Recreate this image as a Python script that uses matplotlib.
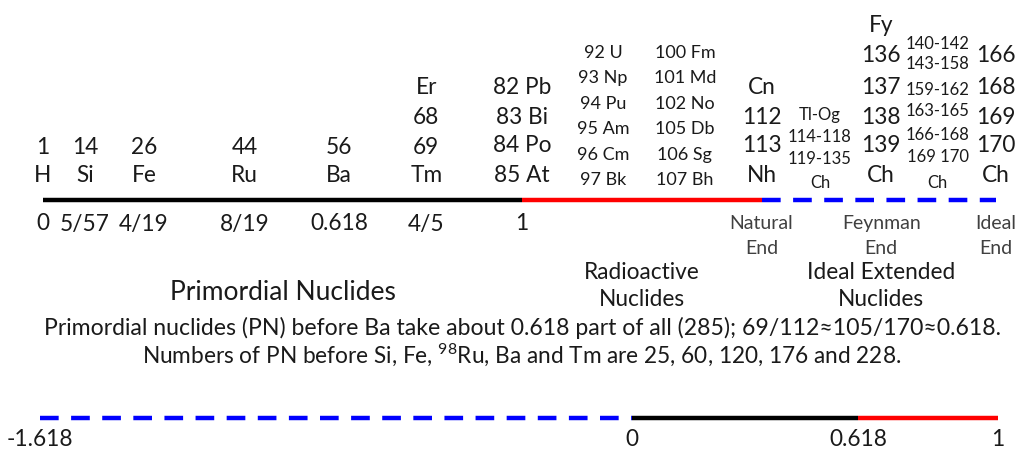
import matplotlib
matplotlib.use('Agg')
import matplotlib.pyplot as plt

plt.rcParams['font.family'] = ['Lato', 'DejaVu Sans']
plt.rcParams['mathtext.fontset'] = 'custom'
plt.rcParams['mathtext.rm'] = 'Lato'
plt.rcParams['mathtext.it'] = 'Lato:italic'
plt.rcParams['mathtext.bf'] = 'Lato:bold'

# ---------------- data ----------------
# top scale positions (fraction from H=0 to end of primordial=1)
prim_pos = [0, 5/57, 4/19, 8/19, 0.618, 0.8]
prim_pos_labels = ['0', '5/57', '4/19', '8/19', '0.618', '4/5']
prim_numbers = ['1', '14', '26', '44', '56', '69']
prim_symbols = ['H', 'Si', 'Fe', 'Ru', 'Ba', 'Tm']
tm_extra = ['Er', '68']

end_pos = 1.0
end_rows = ['82 Pb', '83 Bi', '84 Po', '85 At']
end_label = '1'

radio_pos = [1.169, 1.34]
radio_cols = [['92 U', '93 Np', '94 Pu', '95 Am', '96 Cm', '97 Bk'],
              ['100 Fm', '101 Md', '102 No', '105 Db', '106 Sg', '107 Bh']]

natural_pos = 1.5
natural_rows = ['Cn', '112', '113', 'Nh']
tlog_pos = 1.622
tlog_rows = ['Tl-Og', '114-118', '119-135', 'Ch']
feyn_pos = 1.75
feyn_rows = ['Fy', '136', '137', '138', '139', 'Ch']
mid_pos = 1.868
mid_rows = ['140-142', '143-158', '159-162', '163-165', '166-168', '169 170', 'Ch']
ideal_pos = 1.99
ideal_rows = ['166', '168', '169', '170', 'Ch']

end_names = ['Natural\nEnd', 'Feynman\nEnd', 'Ideal\nEnd']
end_name_pos = [natural_pos, feyn_pos, ideal_pos]

# top line segments (start, stop, colour, dashed)
top_segments = [(0, 1.0, 'black', False), (1.0, 1.5, 'red', False), (1.5, 1.99, 'blue', True)]
# bottom line segments
bot_segments = [(-1.618, 0, 'blue', True), (0, 0.618, 'black', False), (0.618, 1.0, 'red', False)]
bot_ticks = [-1.618, 0, 0.618, 1]
bot_tick_labels = ['-1.618', '0', '0.618', '1']

region_titles = ['Primordial Nuclides', 'Radioactive\nNuclides', 'Ideal Extended\nNuclides']
region_pos = [0.5, 1.25, 1.75]
note1 = 'Primordial nuclides (PN) before Ba take about 0.618 part of all (285); 69/112\u2248105/170\u22480.618.'
note2 = 'Numbers of PN before Si, Fe, $^{98}$Ru, Ba and Tm are 25, 60, 120, 176 and 228.'

# ---------------- layout ----------------
W, H = 1021, 451
fig = plt.figure(figsize=(W / 100, H / 100), dpi=100)
fig.patch.set_facecolor('white')

ax = fig.add_axes([0, 0, 1, 1])
x0, unit = 43, 479
ax.set_xlim(-x0 / unit, (W - x0) / unit)
ax.set_ylim(H, 0)
ax.axis('off')

axb = fig.add_axes([0, 0, 1, 1])
bx0, bunit = 632, 366
axb.set_xlim(-bx0 / bunit, (W - bx0) / bunit)
axb.set_ylim(H, 0)
axb.axis('off')
axb.patch.set_alpha(0)

txt = '#1a1a1a'
big = 16.3
small = 13.0
tiny = 12.0

# top line
y_top = 200
for a, b, c, d in top_segments:
    ax.plot([a, b], [y_top, y_top], color=c, lw=3.2,
            ls=(0, (4.2, 2.8)) if d else '-', solid_capstyle='butt', dash_capstyle='butt')

# primordial columns
for p, n, s, l in zip(prim_pos, prim_numbers, prim_symbols, prim_pos_labels):
    ax.text(p, 148, n, ha='center', va='center', fontsize=big, color=txt)
    ax.text(p, 176, s, ha='center', va='center', fontsize=big, color=txt)
    ax.text(p, 224, l, ha='center', va='center', fontsize=big, color=txt)
for i, t in enumerate(tm_extra):
    ax.text(prim_pos[-1], 88 + 29 * i, t, ha='center', va='center', fontsize=big, color=txt)

for i, t in enumerate(end_rows):
    ax.text(end_pos, 88 + 29 * i, t, ha='center', va='center', fontsize=big, color=txt)
ax.text(end_pos, 224, end_label, ha='center', va='center', fontsize=big, color=txt)

for p, col in zip(radio_pos, radio_cols):
    for i, t in enumerate(col):
        ax.text(p, 53 + 25.4 * i, t, ha='center', va='center', fontsize=small, color=txt)

for i, t in enumerate(natural_rows):
    ax.text(natural_pos, 88 + 29 * i, t, ha='center', va='center', fontsize=big, color=txt)

tl_y = [115, 137, 159, 183]
for t, y in zip(tlog_rows, tl_y):
    ax.text(tlog_pos, y, t, ha='center', va='center', fontsize=tiny, color=txt)

fy_y = [26, 56, 87, 117, 146, 176]
for t, y in zip(feyn_rows, fy_y):
    ax.text(feyn_pos, y, t, ha='center', va='center', fontsize=big, color=txt)

mid_y = [44, 64, 90, 111, 135, 157, 183]
for t, y in zip(mid_rows, mid_y):
    ax.text(mid_pos, y, t, ha='center', va='center', fontsize=tiny, color=txt)

id_y = [56, 87, 117, 146, 176]
for t, y in zip(ideal_rows, id_y):
    ax.text(ideal_pos, y, t, ha='center', va='center', fontsize=big, color=txt)

for p, t in zip(end_name_pos, end_names):
    ax.text(p, 236, t, ha='center', va='center', fontsize=14, color='#404040',
            linespacing=1.55)

# region titles
ax.text(region_pos[0], 292, region_titles[0], ha='center', va='center',
        fontsize=19, color=txt)
ax.text(region_pos[1], 286, region_titles[1], ha='center', va='center', fontsize=16.3,
        color=txt, linespacing=1.4)
ax.text(region_pos[2], 286, region_titles[2], ha='center', va='center', fontsize=16.3,
        color=txt, linespacing=1.4)

ax.text(1.0, 328, note1, ha='center', va='center', fontsize=16.6, color=txt)
ax.text(1.0, 355, note2, ha='center', va='center', fontsize=16.3, color=txt)

# bottom line
y_bot = 418
for a, b, c, d in bot_segments:
    axb.plot([a, b], [y_bot, y_bot], color=c, lw=3.2,
             ls=(0, (4.2, 2.8)) if d else '-', solid_capstyle='butt', dash_capstyle='butt')
for v, l in zip(bot_ticks, bot_tick_labels):
    axb.text(v, 440, l, ha='center', va='center', fontsize=16.3, color=txt)

fig.savefig('out.png', dpi=100, facecolor='white')
